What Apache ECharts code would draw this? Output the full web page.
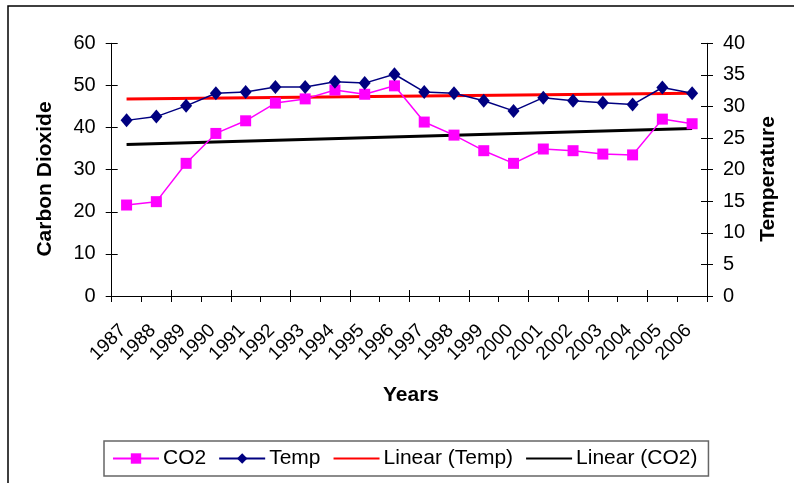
<!DOCTYPE html>
<html>
<head>
<meta charset="utf-8">
<script src="https://cdn.jsdelivr.net/npm/echarts@6/dist/echarts.min.js"></script>
<style>
html,body{margin:0;padding:0;background:#fff;}
#main{width:794px;height:483px;}
</style>
</head>
<body>
<div id="main"></div>
<script>
var years = ['1987','1988','1989','1990','1991','1992','1993','1994','1995','1996','1997','1998','1999','2000','2001','2002','2003','2004','2005','2006'];
var co2 = [21.6,22.4,31.5,38.6,41.6,45.8,46.8,48.9,47.9,49.9,41.3,38.2,34.5,31.5,34.9,34.5,33.7,33.5,42.0,40.9];
var temp = [27.8,28.4,30.1,32.1,32.3,33.1,33.1,33.9,33.7,35.1,32.3,32.1,30.9,29.3,31.4,30.9,30.6,30.3,33.0,32.1];
var trendTempEnds = [31.2, 32.1];
var trendCO2Ends = [36.0, 39.8];
var leftTicks = [0,10,20,30,40,50,60];
var rightTicks = [0,5,10,15,20,25,30,35,40];

var FONT = '"Liberation Sans", Arial, sans-serif';
var chart = echarts.init(document.getElementById('main'), null, {renderer:'canvas'});

var axisLineStyle = {color:'#000', width:1};
function tickAxisY(pos, max, interval, inside){
  return {
    type:'value', position:pos, min:0, max:max, interval:interval,
    axisLine:{show:!inside, lineStyle:axisLineStyle},
    axisTick:{show:true, inside:inside, length:6, lineStyle:axisLineStyle},
    axisLabel:{show:!inside, color:'#000', fontFamily:FONT, fontSize:20, margin:16},
    splitLine:{show:false}
  };
}

var option = {
  animation:false,
  backgroundColor:'#fff',
  textStyle:{fontFamily:FONT},
  grid:{left:111.7, right:87, top:43.3, bottom:187, containLabel:false},
  xAxis:[{
    type:'category', data:years, boundaryGap:true,
    axisLine:{show:true, lineStyle:axisLineStyle},
    axisTick:{show:true, length:6, inside:false, lineStyle:axisLineStyle},
    axisLabel:{color:'#000', fontFamily:FONT, fontSize:19, rotate:45, margin:28, interval:0, padding:[0,5,0,0]}
  },{
    type:'category', data:years, boundaryGap:true, position:'bottom',
    axisLine:{show:false},
    axisTick:{show:true, length:6, inside:true, lineStyle:axisLineStyle},
    axisLabel:{show:false}
  }],
  yAxis:[
    tickAxisY('left', leftTicks[leftTicks.length-1], leftTicks[1]-leftTicks[0], false),
    tickAxisY('right', rightTicks[rightTicks.length-1], rightTicks[1]-rightTicks[0], false),
    tickAxisY('left', leftTicks[leftTicks.length-1], leftTicks[1]-leftTicks[0], true),
    tickAxisY('right', rightTicks[rightTicks.length-1], rightTicks[1]-rightTicks[0], true)
  ],
  legend:{
    left:104, top:441,
    padding:[7,11,7,8],
    itemWidth:46, itemHeight:13, itemGap:12,
    borderColor:'#666', borderWidth:1.5,
    textStyle:{color:'#000', fontFamily:FONT, fontSize:21, padding:[0,0,0,-1]},
    data:[
      {name:'CO2'},
      {name:'Temp'},
      {name:'Linear (Temp)', itemStyle:{opacity:0}},
      {name:'Linear (CO2)', itemStyle:{opacity:0}}
    ]
  },
  series:[
    {name:'CO2', type:'line', data:co2, yAxisIndex:0,
     symbol:'rect', symbolSize:11, lineStyle:{color:'#FF00FF', width:1.5},
     itemStyle:{color:'#FF00FF'}, z:3},
    {name:'Temp', type:'line', data:temp, yAxisIndex:1,
     symbol:'diamond', symbolSize:[12,14], lineStyle:{color:'#000080', width:1.5},
     itemStyle:{color:'#000080'}, z:4},
    {name:'Linear (Temp)', type:'line', yAxisIndex:1,
     data:[[years[0], trendTempEnds[0]],[years[years.length-1], trendTempEnds[1]]],
     symbol:'none', lineStyle:{color:'#FF0000', width:3}, itemStyle:{color:'#FF0000'}, z:2},
    {name:'Linear (CO2)', type:'line', yAxisIndex:0,
     data:[[years[0], trendCO2Ends[0]],[years[years.length-1], trendCO2Ends[1]]],
     symbol:'none', lineStyle:{color:'#000', width:3}, itemStyle:{color:'#000'}, z:2}
  ],
  graphic:[
    {type:'rect', x:0, y:0, shape:{x:8, y:6, width:900, height:600}, style:{fill:'none', stroke:'#000', lineWidth:1.5}, silent:true},
    {type:'text', x:45, y:179, rotation:Math.PI/2, style:{text:'Carbon Dioxide', font:'bold 21px '+FONT, fill:'#000', textAlign:'center', textVerticalAlign:'middle'}},
    {type:'text', x:768, y:179, rotation:Math.PI/2, style:{text:'Temperature', font:'bold 21px '+FONT, fill:'#000', textAlign:'center', textVerticalAlign:'middle'}},
    {type:'text', x:411, y:395, style:{text:'Years', font:'bold 21px '+FONT, fill:'#000', textAlign:'center', textVerticalAlign:'middle'}}
  ]
};
chart.setOption(option);
</script>
</body>
</html>
